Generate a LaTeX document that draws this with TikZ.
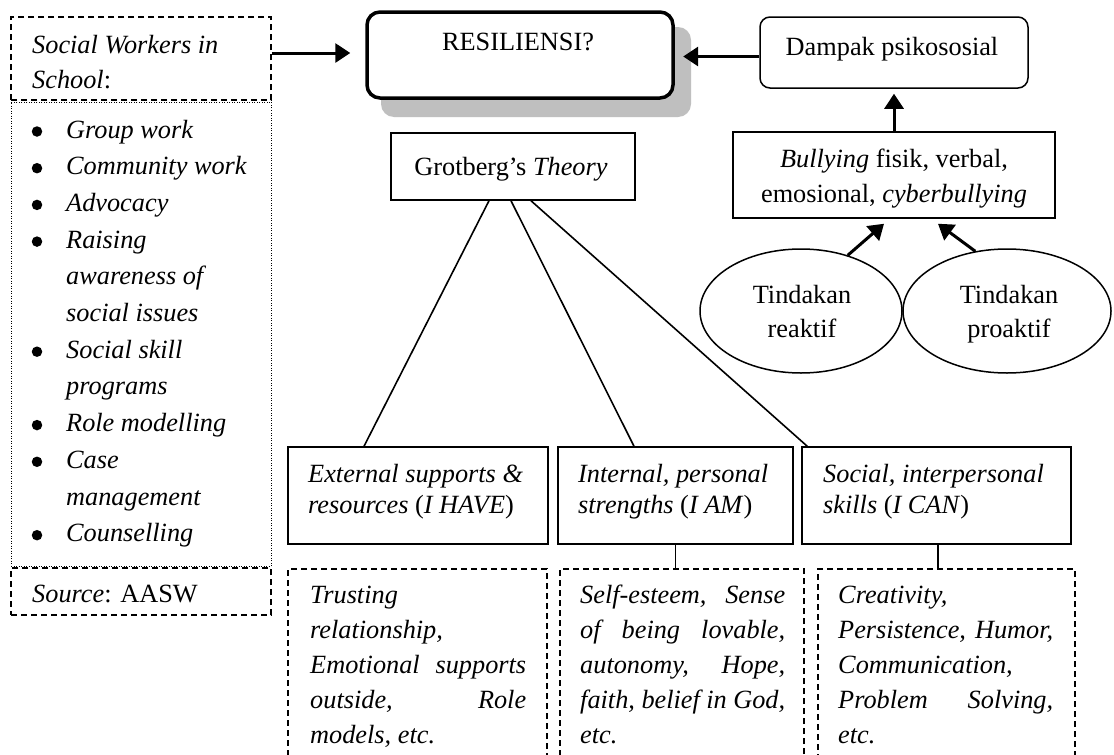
\documentclass[tikz,border=0pt]{standalone}
\usepackage{fontspec}
\setmainfont{Liberation Serif}
\usetikzlibrary{arrows.meta,shapes.geometric,calc}
\newcommand{\fs}[1]{\fontsize{26.3}{#1}\selectfont}
\begin{document}
\begin{tikzpicture}[x=1pt,y=-1pt,
  box/.style={draw, line width=1.5pt, inner sep=0pt, rectangle},
  dbox/.style={box, dash pattern=on 6pt off 4pt},
  dotbox/.style={draw, line width=1pt, dash pattern=on 1pt off 1.5pt, inner sep=0pt},
  txt/.style={inner sep=0pt, anchor=base west},
  ctxt/.style={inner sep=0pt, anchor=base},
  arr/.style={line width=3pt, -{Triangle[length=15pt,width=19pt]}},
  conn/.style={line width=1.6pt},
  ell/.style={draw, ellipse, line width=1.5pt, inner sep=0pt, fill=white},
  bulletdot/.style={circle, fill=black, inner sep=0pt, minimum size=10.5pt}
]
\useasboundingbox (0,0) rectangle (1114,755);
\fill[white] (0,0) rectangle (1114,755);
\begin{scope}
\clip (0,0) rectangle (1114,755);

% left column
\node[dotbox, minimum width=260pt, minimum height=464pt] (list) at (141,334) {};
\node[dbox, minimum width=260pt, minimum height=83pt] (sw) at (141,58.5) {};
\node[txt] (swt) at (32,53) {\fs{35}\begin{tabular}[t]{@{}l@{}}\textit{Social Workers in}\\\textit{School}:\end{tabular}};
\node[txt] (listt) at (66,138) {\fs{36.7}\begin{tabular}[t]{@{}l@{}}
\textit{Group work}\\
\textit{Community work}\\
\textit{Advocacy}\\
\textit{Raising}\\
\textit{awareness of}\\
\textit{social issues}\\
\textit{Social skill}\\
\textit{programs}\\
\textit{Role modelling}\\
\textit{Case}\\
\textit{management}\\
\textit{Counselling}
\end{tabular}};
\foreach \k [count=\i] in {0,1,2,3,6,8,9,11}
  \node[bulletdot] (bul\i) at (37,{131.5+36.7*\k}) {};
\node[dbox, minimum width=260pt, minimum height=47pt] (src) at (141,591.5) {};
\node[txt] (srct) at (32,602) {\fs{35}\textit{Source}: AASW};

% RESILIENSI
\node[fill=black!25, rounded corners=13pt, minimum width=310pt, minimum height=90pt, inner sep=0pt] (ressh) at (536,72) {};
\node[draw, line width=3.5pt, rounded corners=13pt, fill=white, minimum width=306pt, minimum height=86pt, inner sep=0pt] (res) at (520,55) {};
\node[ctxt] (rest) at (518,50) {\fs{35}RESILIENSI?};

% Grotberg
\node[box, minimum width=244pt, minimum height=67pt] (grot) at (513,166.5) {};
\node[ctxt] (grott) at (511,175) {\fs{35}Grotberg’s \textit{Theory}};

% right side
\node[box, rounded corners=10pt, minimum width=268pt, minimum height=71pt] (damp) at (894,52.5) {};
\node[ctxt] (dampt) at (892,55) {\fs{35}Dampak psikososial};
\node[box, minimum width=322pt, minimum height=86pt] (bully) at (894,175) {};
\node[ctxt] (bullyt) at (894,167) {\fs{35}\begin{tabular}[t]{@{}c@{}}\textit{Bullying} fisik, verbal,\\emosional, \textit{cyberbullying}\end{tabular}};
\node[ell, minimum width=202pt, minimum height=124pt] (re) at (801,311) {};
\node[ell, minimum width=208pt, minimum height=124pt] (pe) at (1007,311) {};
\node[ctxt] (ret) at (802,303) {\fs{34}\begin{tabular}[t]{@{}c@{}}Tindakan\\reaktif\end{tabular}};
\node[ctxt] (pet) at (1009,303) {\fs{34}\begin{tabular}[t]{@{}c@{}}Tindakan\\proaktif\end{tabular}};

% bottom solid boxes
\node[box, minimum width=260pt, minimum height=97pt] (b1) at (418,495.5) {};
\node[box, minimum width=235pt, minimum height=97pt] (b2) at (675.5,495.5) {};
\node[box, minimum width=269pt, minimum height=97pt] (b3) at (936.5,495.5) {};
\node[txt] (b1t) at (308,482) {\fs{31}\begin{tabular}[t]{@{}l@{}}\textit{External supports \&}\\\textit{resources} (\textit{I HAVE})\end{tabular}};
\node[txt] (b2t) at (578,482) {\fs{31}\begin{tabular}[t]{@{}l@{}}\textit{Internal, personal}\\\textit{strengths} (\textit{I AM})\end{tabular}};
\node[txt] (b3t) at (823,482) {\fs{31}\begin{tabular}[t]{@{}l@{}}\textit{Social, interpersonal}\\\textit{skills} (\textit{I CAN})\end{tabular}};

% bottom dashed boxes
\node[dbox, minimum width=259pt, minimum height=211pt] (d1) at (417.5,674.5) {};
\node[dbox, minimum width=244pt, minimum height=211pt] (d2) at (682,674.5) {};
\node[dbox, minimum width=257pt, minimum height=211pt] (d3) at (946.5,674.5) {};
\node[txt] (d1t) at (310,603) {\fs{35}\begin{tabular}[t]{@{}l@{}}
\textit{Trusting}\\
\textit{relationship,}\\
\makebox[216pt][s]{\textit{Emotional supports}}\\
\makebox[216pt][s]{\textit{outside, Role}}\\
\textit{models, etc.}
\end{tabular}};
\node[txt] (d2t) at (580,603) {\fs{35}\begin{tabular}[t]{@{}l@{}}
\makebox[205pt][s]{\textit{Self-esteem, Sense}}\\
\makebox[205pt][s]{\textit{of being lovable,}}\\
\makebox[205pt][s]{\textit{autonomy, Hope,}}\\
\makebox[205pt][s]{\textit{faith, belief in God,}}\\
\textit{etc.}
\end{tabular}};
\node[txt] (d3t) at (838,603) {\fs{35}\begin{tabular}[t]{@{}l@{}}
\textit{Creativity,}\\
\makebox[215pt][s]{\textit{Persistence, Humor,}}\\
\textit{Communication,}\\
\makebox[215pt][s]{\textit{Problem Solving,}}\\
\textit{etc.}
\end{tabular}};

% connectors
\draw[conn] ($(res.south)+(-9,0)$) -- ($(res.south -| grot.north)+(-2,0)$);
\draw[conn] ($(grot.south)+(-24,0)$) -- ($(b1.north)+(-54,0)$);
\draw[conn] ($(grot.south)+(-2,0)$) -- ($(b2.north)+(-41.5,0)$);
\draw[conn] ($(grot.south)+(18,0)$) -- ($(b3.north west)+(6,0)$);
\draw[conn] ($(b1.south)+(-9,0)$) -- ($(b1.south -| d1.north)+(-8.5,0)$);
\draw[conn] (b2.south) -- (b2.south |- d2.north);
\draw[conn] ($(b3.south)+(1.5,0)$) -- ($(b3.south |- d3.north)+(1.5,0)$);

% arrows
\draw[arr] ($(sw.east)+(0,-5.5)$) -- ($(sw.east -| res.west)+(-15,-5.5)$);
\draw[arr] ($(damp.west)+(0,4)$) -- ($(damp.west -| ressh.east)+(-8,4)$);
\draw[arr] (bully.north) -- ($(damp.south)+(0,5)$);
\draw[arr] (re.50) -- ($(bully.south)+(-10,5)$);
\draw[arr] (pe.118) -- ($(bully.south)+(44,5)$);
\end{scope}
\end{tikzpicture}
\end{document}
